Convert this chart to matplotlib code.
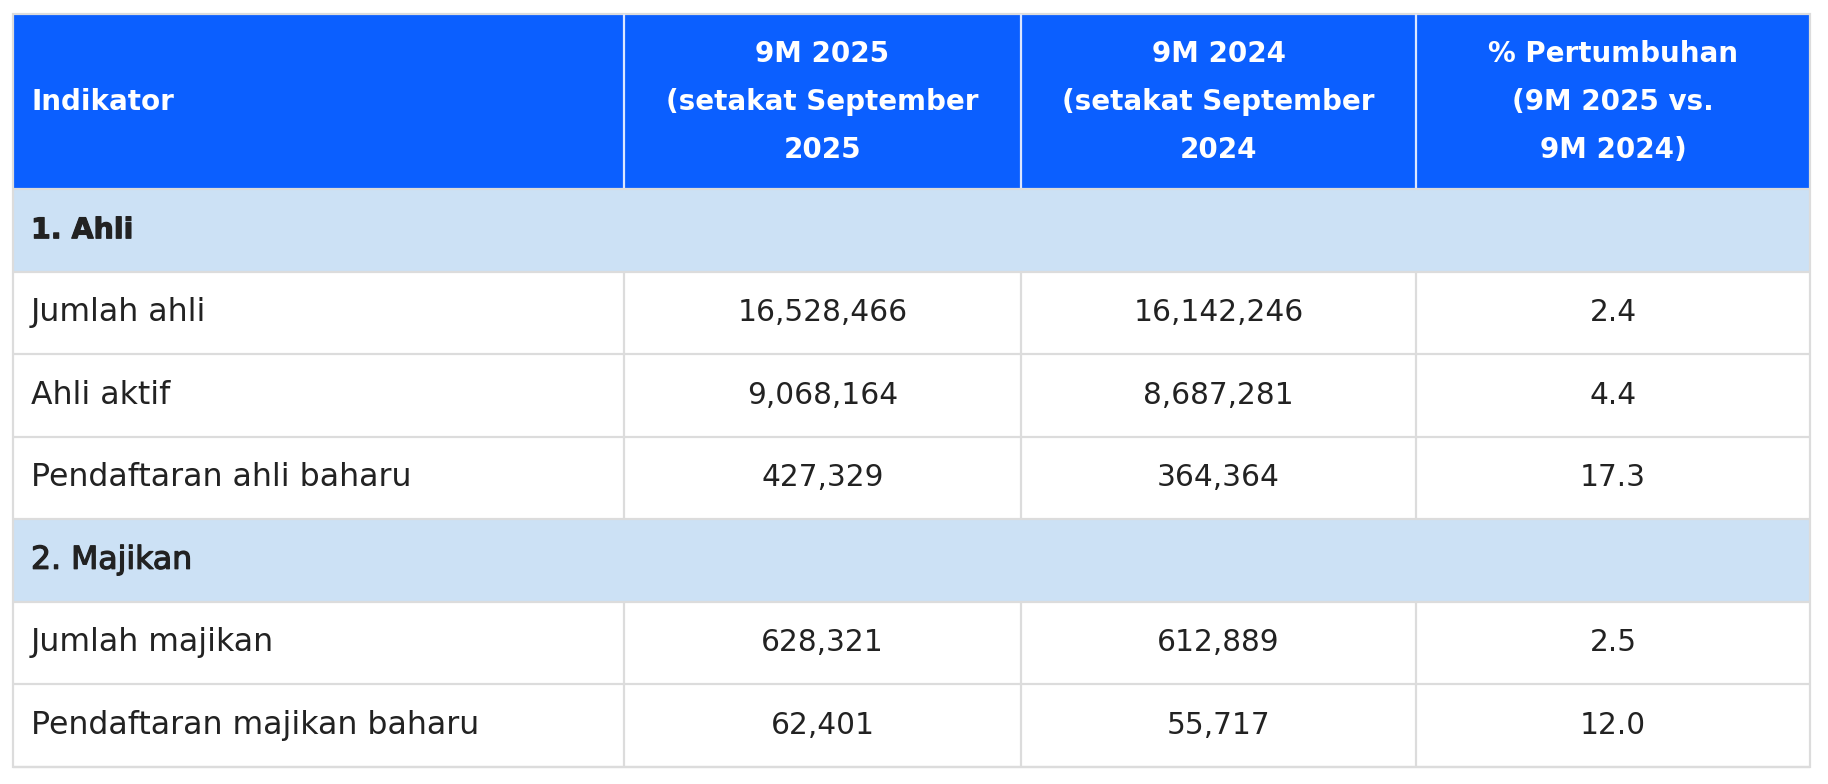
import matplotlib
matplotlib.use("Agg")
import matplotlib.pyplot as plt
import matplotlib.patheffects as pe
from matplotlib.patches import Rectangle

# ---- data ----
header = [
    ["Indikator"],
    ["9M 2025", "(setakat September", "2025"],
    ["9M 2024", "(setakat September", "2024"],
    ["% Pertumbuhan", "(9M 2025 vs.", "9M 2024)"],
]
sections = ["1. Ahli", "2. Majikan"]
indicators = [
    ["Jumlah ahli", "Ahli aktif", "Pendaftaran ahli baharu"],
    ["Jumlah majikan", "Pendaftaran majikan baharu"],
]
val_2025 = [["16,528,466", "9,068,164", "427,329"], ["628,321", "62,401"]]
val_2024 = [["16,142,246", "8,687,281", "364,364"], ["612,889", "55,717"]]
growth = [["2.4", "4.4", "17.3"], ["2.5", "12.0"]]

# ---- layout / style ----
W, H = 1828, 784
col_edges = [13, 624, 1021, 1416, 1810]
top = 14
header_h = 175
row_h = 82.5
blue = "#0B5FFF"
section_bg = "#CCE1F5"
grid = "#DCDCDC"
txt = "#222222"
fs = 22.7
fs_num = 21.3
fs_head = 20
font = ["DejaVu Sans"]

fig = plt.figure(figsize=(W / 100, H / 100), dpi=100)
ax = fig.add_axes([0, 0, 1, 1])
ax.set_xlim(0, W)
ax.set_ylim(H, 0)
ax.axis("off")

left, right = col_edges[0], col_edges[-1]

# header
ax.add_patch(Rectangle((left, top), right - left, header_h, facecolor=blue, edgecolor="none"))
hc = top + header_h / 2
for ci, lines in enumerate(header):
    n = len(lines)
    for li, line in enumerate(lines):
        y = hc + (li - (n - 1) / 2) * 48
        if ci == 0:
            ax.text(left + 18, y, line, ha="left", va="center", color="white",
                    fontsize=fs_head, fontweight="bold", family=font)
        else:
            xc = (col_edges[ci] + col_edges[ci + 1]) / 2
            ax.text(xc, y, line, ha="center", va="center", color="white",
                    fontsize=fs_head, fontweight="bold", family=font)
for x in col_edges[1:-1]:
    ax.plot([x, x], [top, top + header_h], color="#DCE6FF", lw=1.6, solid_capstyle="butt")

# body
y = top + header_h
hlines = [top + header_h]
for si, sec in enumerate(sections):
    ax.add_patch(Rectangle((left, y), right - left, row_h, facecolor=section_bg, edgecolor="none"))
    if si == 0:
        ax.text(left + 18, y + row_h / 2, sec, ha="left", va="center", color=txt,
                fontsize=fs_head + 0.5, fontweight="bold", family=font,
                path_effects=[pe.withStroke(linewidth=0.8, foreground=txt)])
    else:
        ax.text(left + 18, y + row_h / 2, sec, ha="left", va="center", color=txt,
                fontsize=fs, family=font,
                path_effects=[pe.withStroke(linewidth=0.9, foreground=txt)])
    y += row_h
    hlines.append(y)
    for ri, name in enumerate(indicators[si]):
        cells = [name, val_2025[si][ri], val_2024[si][ri], growth[si][ri]]
        for ci, c in enumerate(cells):
            if ci == 0:
                ax.text(left + 18, y + row_h / 2, c, ha="left", va="center", color=txt,
                        fontsize=fs, family=font)
            else:
                xc = (col_edges[ci] + col_edges[ci + 1]) / 2
                ax.text(xc, y + row_h / 2, c, ha="center", va="center", color=txt,
                        fontsize=fs_num, family=font)
        for x in col_edges[1:-1]:
            ax.plot([x, x], [y, y + row_h], color=grid, lw=1.6, solid_capstyle="butt")
        y += row_h
        hlines.append(y)
bottom = y

for hy in hlines:
    ax.plot([left, right], [hy, hy], color=grid, lw=1.6, solid_capstyle="butt")
# outer border
ax.add_patch(Rectangle((left, top), right - left, bottom - top, facecolor="none",
                       edgecolor=grid, lw=1.6))

fig.savefig("out.png", dpi=100, facecolor="white")
